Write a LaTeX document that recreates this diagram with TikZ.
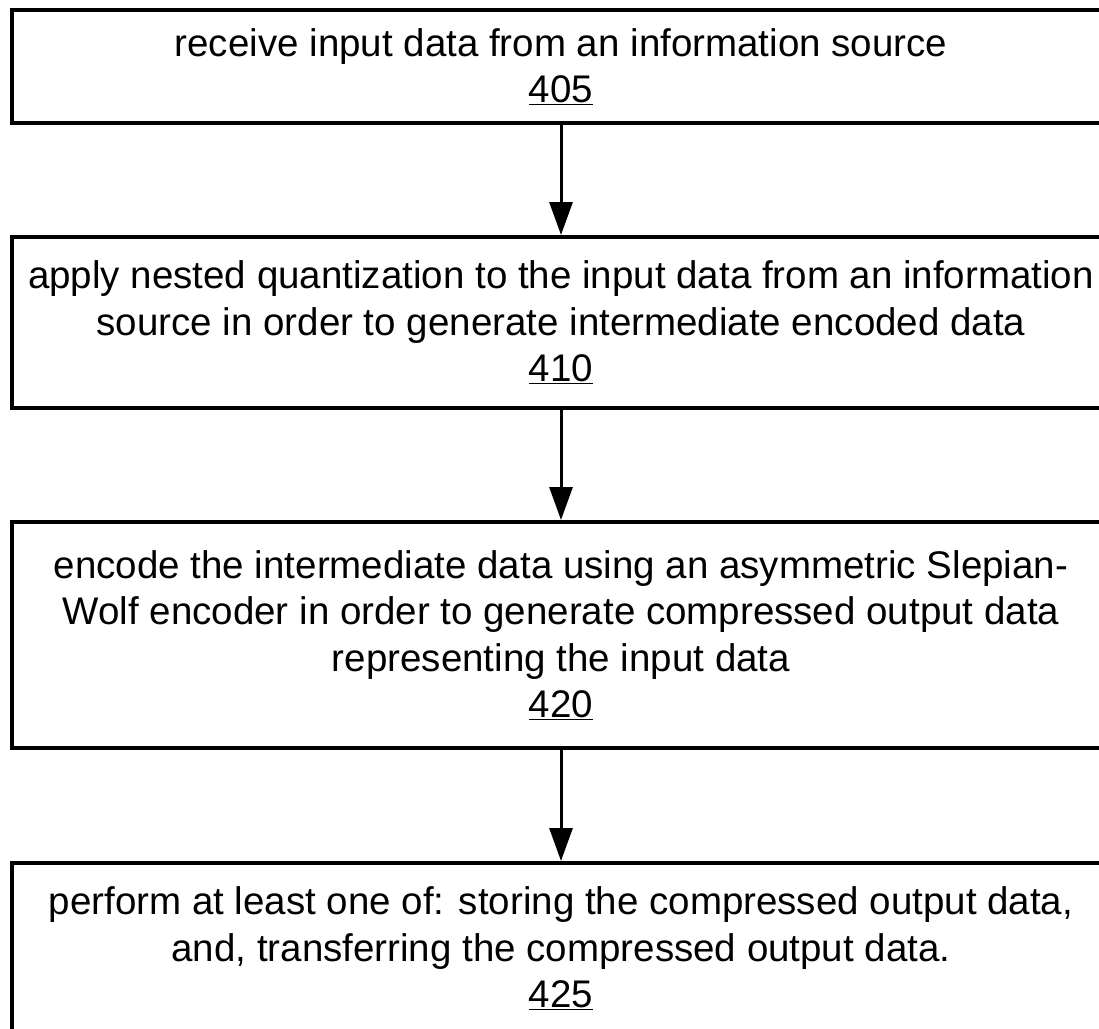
\documentclass[tikz,border=0pt]{standalone}
\usepackage{fontspec}
\setmainfont{Liberation Sans}
\usetikzlibrary{arrows.meta,positioning}

\begin{document}
\begin{tikzpicture}[
    x=1pt, y=-1pt,
    >={Triangle[width=23pt,length=33pt]},
    stepbox/.style={
        draw,
        line width=4pt,
        minimum width=1098pt,
        align=center,
        font=\fontsize{38.5}{46.5}\selectfont,
        inner sep=0pt
    },
    flow/.style={
        ->,
        line width=3pt
    }
]

% ---------------------------------
% Page size
% ---------------------------------
\useasboundingbox (0,0) rectangle (1099,1028);

% ---------------------------------
% Steps
% ---------------------------------
\node[stepbox, minimum height=113pt] (receive) at (561,66.5) {
    receive input data from an information source\\
    \underline{405}
};

\node[stepbox, minimum height=171pt] (quantize) at (561,322.5) {
    apply nested quantization to the input data from an information\\
    source in order to generate intermediate encoded data\\
    \underline{410}
};

\node[stepbox, minimum height=226pt] (encode) at (561,635) {
    encode the intermediate data using an asymmetric Slepian-\\
    Wolf encoder in order to generate compressed output data\\
    representing the input data\\
    \underline{420}
};

\node[stepbox, minimum height=171pt] (store) at (561,948.5) {
    perform at least one of: storing the compressed output data,\\
    and, transferring the compressed output data.\\
    \underline{425}
};

% ---------------------------------
% Arrows
% ---------------------------------
\draw[flow] (receive) -- (quantize);
\draw[flow] (quantize) -- (encode);
\draw[flow] (encode) -- (store);

\end{tikzpicture}
\end{document}
